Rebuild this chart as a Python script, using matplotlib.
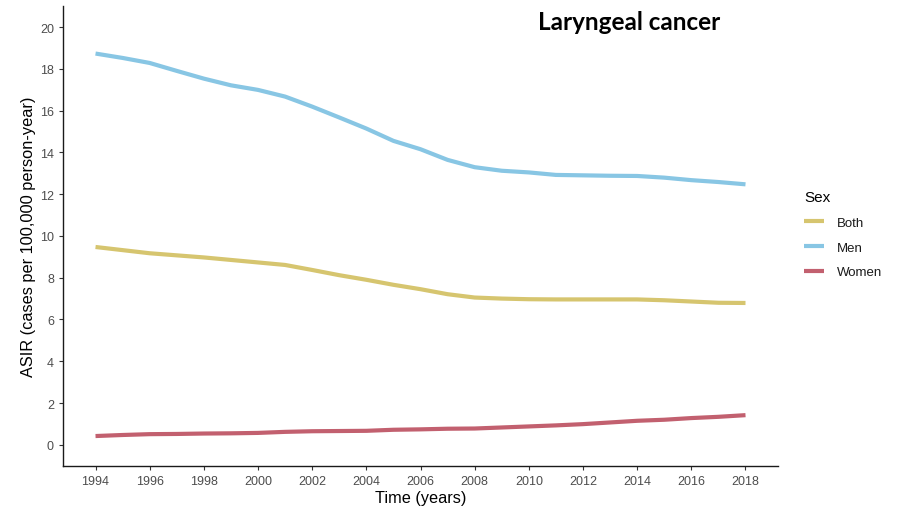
import matplotlib
matplotlib.use("Agg")
import matplotlib.pyplot as plt

years = list(range(1994, 2019))

both = [9.47, 9.32, 9.17, 9.07, 8.97, 8.85, 8.73, 8.61, 8.37, 8.12, 7.90, 7.66, 7.45,
        7.21, 7.05, 7.00, 6.97, 6.96, 6.96, 6.96, 6.96, 6.92, 6.86, 6.80, 6.79]
men = [18.73, 18.52, 18.28, 17.90, 17.53, 17.21, 16.99, 16.67, 16.19, 15.67, 15.14,
       14.55, 14.15, 13.64, 13.29, 13.12, 13.04, 12.92, 12.90, 12.88, 12.87, 12.79,
       12.67, 12.58, 12.47]
women = [0.42, 0.47, 0.51, 0.52, 0.54, 0.55, 0.57, 0.62, 0.65, 0.66, 0.67, 0.72, 0.74,
         0.77, 0.78, 0.83, 0.88, 0.93, 0.99, 1.07, 1.15, 1.20, 1.28, 1.34, 1.42]

series_names = ["Both", "Men", "Women"]
series_colors = ["#D6C56F", "#88C6E4", "#C2606F"]

x_ticks = list(range(1994, 2019, 2))
y_ticks = list(range(0, 21, 2))

plt.rcParams['font.family'] = ['Liberation Sans', 'DejaVu Sans']

fig = plt.figure(figsize=(8.99, 5.10), dpi=100)
ax = fig.add_axes([0.0701, 0.0849, 0.7953, 0.9011])

for name, vals, col in zip(series_names, [both, men, women], series_colors):
    ax.plot(years, vals, color=col, lw=3.0, label=name, solid_capstyle='butt')

ax.set_xlim(1992.8, 2019.2)
ax.set_ylim(-1, 21)
ax.set_xticks(x_ticks)
ax.set_yticks(y_ticks)
ax.tick_params(axis='both', colors='#333333', labelcolor='#4D4D4D', labelsize=9,
               length=3, width=0.8)
for side in ['top', 'right']:
    ax.spines[side].set_visible(False)
for side in ['left', 'bottom']:
    ax.spines[side].set_color('#1a1a1a')
    ax.spines[side].set_linewidth(1.0)

ax.set_xlabel("Time (years)", fontsize=11.7, color='black', labelpad=2)
ax.set_ylabel("ASIR (cases per 100,000 person-year)", fontsize=11.8, color='black', labelpad=3)

leg = ax.legend(title="Sex", loc='upper left', bbox_to_anchor=(0.8815, 0.6485),
                bbox_transform=fig.transFigure, frameon=False, fontsize=9.5,
                title_fontsize=11, handlelength=1.5, handletextpad=1.0,
                labelspacing=0.95)
leg._legend_box.align = "left"
for t in leg.get_texts():
    t.set_color('#1a1a1a')
for h in leg.legend_handles:
    h.set_linewidth(3.0)

fig.text(0.700, 0.955, "Laryngeal cancer", fontsize=17.5, fontweight='bold',
         family=['Lato', 'DejaVu Sans'], ha='center', va='center', color='black')

fig.savefig("out.png", dpi=100)
